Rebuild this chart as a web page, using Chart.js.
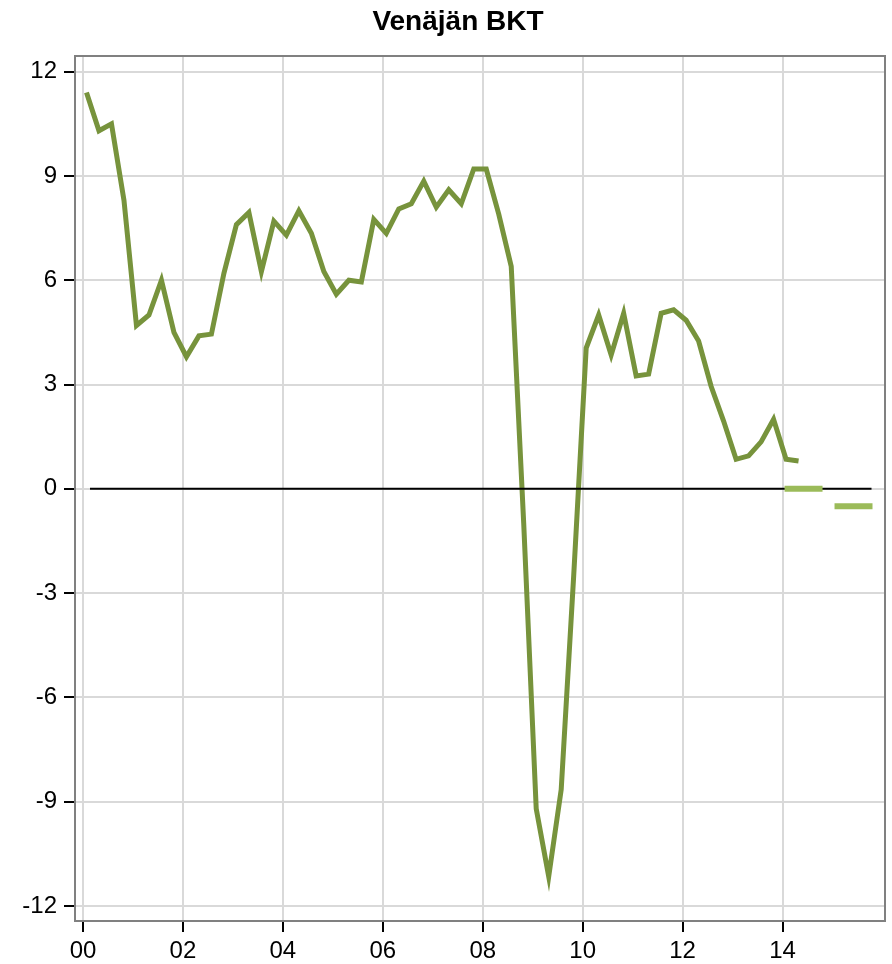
<!DOCTYPE html>
<html lang="fi">
<head>
<meta charset="utf-8">
<title>Venäjän BKT</title>
<script src="https://cdn.jsdelivr.net/npm/chart.js@4.4.1/dist/chart.umd.min.js"></script>
<style>
    html, body { margin: 0; padding: 0; background: #fff; }
    #gdpChart { display: block; }
</style>
</head>
<body>
<canvas id="gdpChart" width="892" height="964"></canvas>
<script>
// Quarterly GDP growth, % y/y, from 2000 Q1 onwards
const startYear = 2000;
const gdpGrowth = [
    11.4, 10.3, 10.5, 8.3,
    4.7, 5.0, 6.0, 4.5,
    3.8, 4.4, 4.45, 6.2,
    7.6, 7.95, 6.25, 7.7,
    7.3, 8.0, 7.35, 6.25,
    5.6, 6.0, 5.95, 7.75,
    7.35, 8.05, 8.2, 8.85,
    8.1, 8.6, 8.2, 9.2,
    9.2, 7.9, 6.4, -1.0,
    -9.2, -11.15, -8.65, -2.5,
    4.05, 5.0, 3.85, 5.05,
    3.25, 3.3, 5.05, 5.15,
    4.85, 4.25, 2.95, 1.95,
    0.85, 0.95, 1.35, 2.0,
    0.85, 0.8
];

// Annual forecasts
const forecastYears = [2014, 2015];
const forecastValues = [0, -0.5];

// Axis ticks
const xTickValues = [2000, 2002, 2004, 2006, 2008, 2010, 2012, 2014];
const xTickLabels = ['00', '02', '04', '06', '08', '10', '12', '14'];
const yTickValues = [-12, -9, -6, -3, 0, 3, 6, 9, 12];

const GdpChart = {
    chart: null,

    fontFamily: '"Liberation Sans", Arial, Helvetica, sans-serif',

    /**
     * Build the datasets from the arrays above
     */
    buildDatasets: function() {
        const quarterPoints = gdpGrowth.map((v, i) => ({ x: startYear + i / 4 + 0.07, y: v }));

        const forecastSets = forecastYears.map((year, i) => ({
            data: [
                { x: year + 0.04, y: forecastValues[i] },
                { x: year + 0.8, y: forecastValues[i] }
            ],
            borderColor: '#9bbb59',
            borderWidth: 6,
            borderCapStyle: 'butt',
            pointRadius: 0,
            fill: false
        }));

        // Black zero line from the first quarter to the end of the forecasts
        const lastForecast = forecastYears[forecastYears.length - 1];
        const zeroLine = {
            data: [
                { x: startYear + 0.14, y: 0 },
                { x: lastForecast + 0.78, y: 0 }
            ],
            borderColor: '#000',
            borderWidth: 2,
            pointRadius: 0,
            fill: false
        };

        const gdpLine = {
            data: quarterPoints,
            borderColor: '#77933c',
            borderWidth: 5,
            borderJoinStyle: 'miter',
            borderCapStyle: 'butt',
            pointRadius: 0,
            tension: 0,
            fill: false
        };

        // First dataset is drawn on top
        return forecastSets.concat([zeroLine, gdpLine]);
    },

    init: function() {
        const canvas = document.getElementById('gdpChart');
        if (!canvas) return;

        const ctx = canvas.getContext('2d');
        const self = this;

        // Gray frame round the plot area + title
        const framePlugin = {
            id: 'frame',
            afterDraw: function(chart) {
                const a = chart.chartArea;
                const c = chart.ctx;
                c.save();
                c.strokeStyle = '#808080';
                c.lineWidth = 2;
                c.strokeRect(a.left, a.top, a.right - a.left, a.bottom - a.top);
                c.fillStyle = '#000';
                c.font = 'bold 28px ' + self.fontFamily;
                c.textAlign = 'center';
                c.textBaseline = 'alphabetic';
                c.fillText('Venäjän BKT', 458, 30);
                c.restore();
            }
        };

        this.chart = new Chart(ctx, {
            type: 'line',
            data: {
                datasets: this.buildDatasets()
            },
            options: {
                responsive: false,
                animation: false,
                devicePixelRatio: 1,
                layout: {
                    padding: { left: 0, right: 7, top: 56, bottom: 0 }
                },
                plugins: {
                    legend: { display: false },
                    tooltip: { enabled: false },
                    title: { display: false }
                },
                scales: {
                    x: {
                        type: 'linear',
                        min: 1999.84,
                        max: 2016.05,
                        afterBuildTicks: function(scale) {
                            scale.ticks = xTickValues.map(v => ({ value: v }));
                        },
                        afterFit: function(scale) {
                            scale.height = 43;
                        },
                        grid: {
                            color: '#d9d9d9',
                            lineWidth: 2,
                            drawTicks: true,
                            tickLength: 11,
                            tickColor: '#000',
                            tickWidth: 2
                        },
                        border: {
                            color: '#808080',
                            width: 2
                        },
                        ticks: {
                            autoSkip: false,
                            maxRotation: 0,
                            padding: 5,
                            color: '#000',
                            font: { family: this.fontFamily, size: 24 },
                            callback: function(value) {
                                const i = xTickValues.indexOf(value);
                                return i >= 0 ? xTickLabels[i] : '';
                            }
                        }
                    },
                    y: {
                        type: 'linear',
                        min: -12.43,
                        max: 12.45,
                        afterBuildTicks: function(scale) {
                            scale.ticks = yTickValues.map(v => ({ value: v }));
                        },
                        afterFit: function(scale) {
                            scale.width = 75;
                        },
                        grid: {
                            color: '#d9d9d9',
                            lineWidth: 2,
                            drawTicks: true,
                            tickLength: 11,
                            tickColor: '#000',
                            tickWidth: 2
                        },
                        border: {
                            color: '#808080',
                            width: 2
                        },
                        ticks: {
                            autoSkip: false,
                            padding: 7,
                            color: '#000',
                            font: { family: this.fontFamily, size: 24 },
                            callback: function(value) {
                                return String(value);
                            }
                        }
                    }
                }
            },
            plugins: [framePlugin]
        });
    }
};

document.addEventListener('DOMContentLoaded', function() {
    GdpChart.init();
});
</script>
</body>
</html>
